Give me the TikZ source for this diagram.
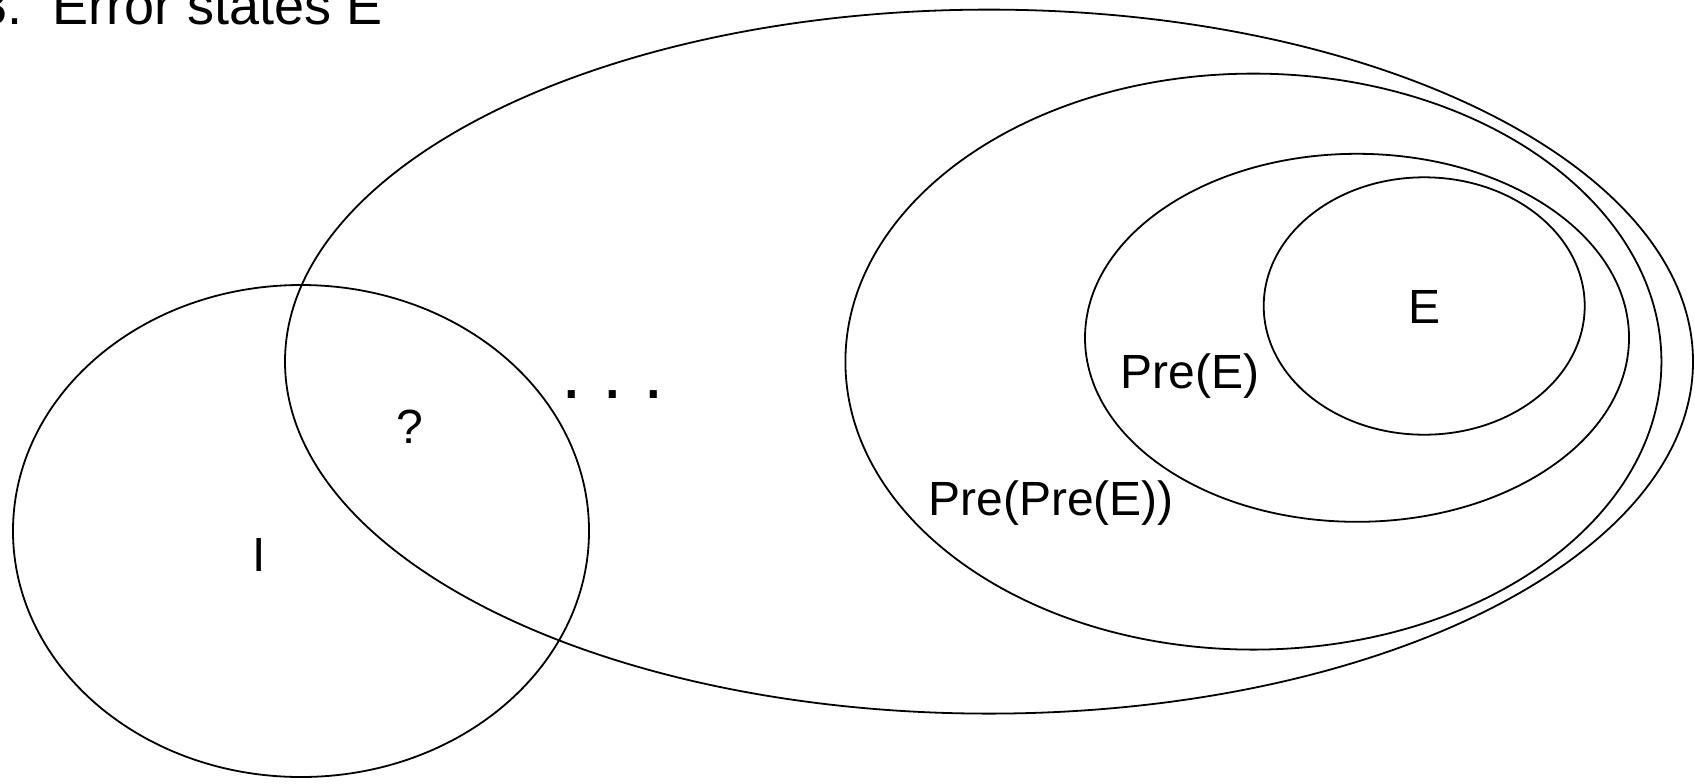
\documentclass[tikz,border=0pt]{standalone}
\usepackage{fontspec}
\setmainfont{Liberation Sans}
\usetikzlibrary{shapes.geometric}
\begin{document}
\begin{tikzpicture}[x=0.5pt,y=-0.5pt,
  set/.style={ellipse, draw, line width=0.9pt, inner sep=0pt, outer sep=0pt},
  lbl/.style={font=\fontsize{24}{28}\selectfont, inner sep=0pt, anchor=base}]
\useasboundingbox (0,0) rectangle (1695,783);

% sets: initial states, reachable region, and the backward images of E
\node[set, minimum width=288pt, minimum height=246pt] (init) at (301,531) {};
\node[set, minimum width=704pt, minimum height=352pt] (outer) at (989,361.6) {};
\node[set, minimum width=408pt, minimum height=288pt] (prepre) at (1253.4,361.6) {};
\node[set, minimum width=272pt, minimum height=184pt] (pre) at (1357,337.8) {};
\node[set, minimum width=160.5pt, minimum height=128.7pt] (err) at (1424.2,306) {};

% labels
\node[lbl] (lE) at (1424,323) {E};
\node[lbl] (lpre) at (1190,388) {Pre(E)};
\node[lbl] (lprepre) at (1051,515) {Pre(Pre(E))};
\node[lbl] (lq) at (410,443) {?};
\node[lbl] (lI) at (259.5,571) {I};
\node[lbl, font=\fontsize{37}{40}\selectfont] (dots) at (612.5,398.7) {.~.~.};

% heading
\node[inner sep=0pt, anchor=base east, font=\fontsize{27}{30}\selectfont] (title) at (383,24) {3.~~Error states E};
\end{tikzpicture}
\end{document}
